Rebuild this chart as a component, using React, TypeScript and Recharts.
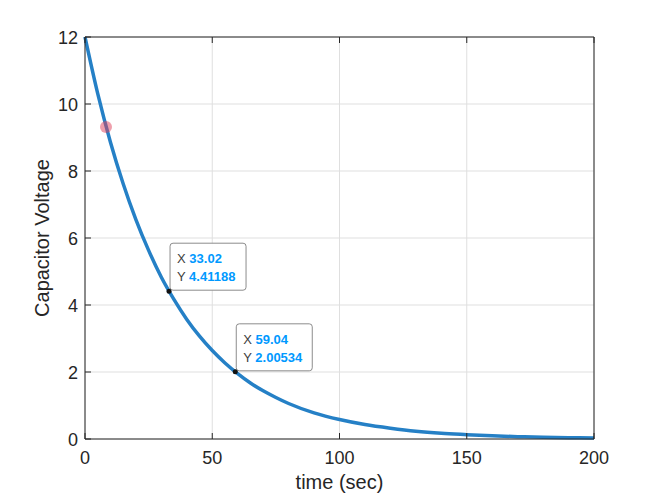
import { CartesianGrid, Line, LineChart, ReferenceDot, XAxis, YAxis } from "recharts";

// time (sec) vs capacitor voltage
const times = [0, 5, 10, 15, 20, 25, 30, 35, 40, 45, 50, 55, 60, 65, 70, 75, 80, 90, 100, 110, 120, 130, 140, 150, 160, 170, 180, 190, 200];
const volts = [12.0, 10.31, 8.86, 7.62, 6.55, 5.63, 4.83, 4.16, 3.57, 3.07, 2.64, 2.27, 1.95, 1.67, 1.44, 1.24, 1.06, 0.78, 0.58, 0.43, 0.32, 0.23, 0.17, 0.13, 0.094, 0.07, 0.05, 0.038, 0.028];

const xTicks = [0, 50, 100, 150, 200];
const yTicks = [0, 2, 4, 6, 8, 10, 12];

const tipX = [33.02, 59.04];
const tipY = [4.41188, 2.00534];

const cursorX = 8.25;
const cursorY = 9.31;

const data = times.map((t, i) => ({ t, v: volts[i] }));

const FONT = "'Liberation Sans', Arial, Helvetica, sans-serif";
const INK = "#262626";

function BottomTick(props: any) {
  const { x, y, payload } = props;
  return (
    <g>
      <line x1={x} y1={y} x2={x} y2={y - 6} stroke={INK} />
      <text x={x} y={y + 25} textAnchor="middle" fontSize={18} fill={INK} fontFamily={FONT}>
        {payload.value}
      </text>
    </g>
  );
}

function LeftTick(props: any) {
  const { x, y, payload } = props;
  return (
    <g>
      <line x1={x} y1={y} x2={x + 6} y2={y} stroke={INK} />
      <text x={x - 7} y={y + 6.5} textAnchor="end" fontSize={18} fill={INK} fontFamily={FONT}>
        {payload.value}
      </text>
    </g>
  );
}

function TopTick(props: any) {
  const { x, y } = props;
  return <line x1={x} y1={y} x2={x} y2={y + 6} stroke={INK} />;
}

function RightTick(props: any) {
  const { x, y } = props;
  return <line x1={x} y1={y} x2={x - 6} y2={y} stroke={INK} />;
}

function YLabel(props: any) {
  const vb = props.viewBox;
  const cx = vb.x + 42;
  const cy = vb.y + vb.height / 2;
  return (
    <text x={cx} y={cy} transform={`rotate(-90 ${cx} ${cy})`} textAnchor="middle" dominantBaseline="central" fontSize={20} fill={INK} fontFamily={FONT}>
      Capacitor Voltage
    </text>
  );
}

function XLabel(props: any) {
  const vb = props.viewBox;
  return (
    <text x={vb.x + vb.width / 2} y={vb.y + 50} textAnchor="middle" fontSize={20} fill={INK} fontFamily={FONT}>
      time (sec)
    </text>
  );
}

function makeTip(xv: number, yv: number) {
  return function Tip(props: any) {
    const { cx, cy } = props;
    const bx = cx + 1;
    const by = cy - 48;
    return (
      <g>
        <rect x={bx} y={by} width={76} height={47} rx={3} fill="#ffffff" fillOpacity={0.95} stroke="#8c8c8c" />
        <text x={bx + 7} y={by + 20} fontSize={13} fontFamily={FONT} fill="#404040">
          X <tspan fill="#0099ff" fontWeight="bold">{xv}</tspan>
        </text>
        <text x={bx + 7} y={by + 38} fontSize={13} fontFamily={FONT} fill="#404040">
          Y <tspan fill="#0099ff" fontWeight="bold">{yv}</tspan>
        </text>
        <circle cx={cx} cy={cy} r={2.5} fill="#111111" />
      </g>
    );
  };
}

export default function App() {
  return (
    <div style={{ position: "absolute", left: 0, top: 0, width: 656, height: 496, background: "#ffffff" }}>
      <LineChart width={656} height={496} data={data} margin={{ top: 0, right: 0, bottom: 0, left: 0 }}>
        <CartesianGrid stroke="#dfdfdf" />
        <XAxis
          dataKey="t"
          type="number"
          domain={[0, 200]}
          ticks={xTicks}
          height={57}
          tickSize={0}
          tickMargin={0}
          tick={<BottomTick />}
          axisLine={{ stroke: INK }}
          label={<XLabel />}
        />
        <XAxis
          xAxisId="top"
          orientation="top"
          dataKey="t"
          type="number"
          domain={[0, 200]}
          ticks={xTicks}
          height={37}
          tickSize={0}
          tickMargin={0}
          tick={<TopTick />}
          axisLine={{ stroke: INK }}
        />
        <YAxis
          type="number"
          domain={[0, 12]}
          ticks={yTicks}
          width={85}
          tickSize={0}
          tickMargin={0}
          tick={<LeftTick />}
          axisLine={{ stroke: INK }}
          label={<YLabel />}
        />
        <YAxis
          yAxisId="right"
          orientation="right"
          type="number"
          domain={[0, 12]}
          ticks={yTicks}
          width={62}
          tickSize={0}
          tickMargin={0}
          tick={<RightTick />}
          axisLine={{ stroke: INK }}
        />
        <Line
          type="monotone"
          dataKey="v"
          stroke="#2580c6"
          strokeWidth={3.5}
          dot={false}
          isAnimationActive={false}
        />
        <ReferenceDot x={cursorX} y={cursorY} r={6} fill="#e0405a" fillOpacity={0.5} stroke="none" />
        {tipX.map((xv, i) => (
          <ReferenceDot key={i} x={xv} y={tipY[i]} r={3} shape={makeTip(xv, tipY[i])} />
        ))}
      </LineChart>
    </div>
  );
}
